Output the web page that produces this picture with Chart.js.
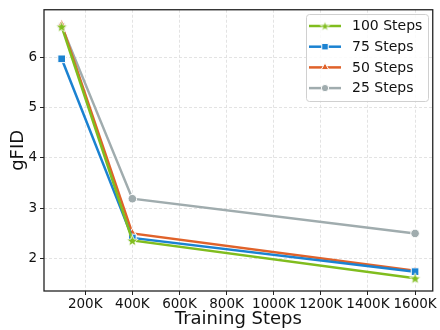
<!DOCTYPE html>
<html><head><meta charset="utf-8">
<script src="https://cdn.jsdelivr.net/npm/chart.js@4.4.1/dist/chart.umd.min.js"></script>
<style>html,body{margin:0;padding:0;background:#fff;}canvas{display:block;}</style>
</head><body>
<canvas id="c" width="440" height="330"></canvas>
<script>
const steps = [100000, 400000, 1600000];
const xTicks = [200000, 400000, 600000, 800000, 1000000, 1200000, 1400000, 1600000];
const yTicks = [2, 3, 4, 5, 6];
const labels = ['100 Steps', '75 Steps', '50 Steps', '25 Steps'];
const s100 = [6.61, 2.36, 1.61];
const s75 = [5.97, 2.41, 1.74];
const s50 = [6.65, 2.50, 1.76];
const s25 = [6.62, 3.19, 2.50];
const colors = ['#80bd1e', '#1b82d1', '#e0622a', '#a0acae'];

function starCanvas(color, R) {
  const n = Math.ceil(2 * R + 3);
  const c = document.createElement('canvas');
  c.width = n; c.height = n;
  const g = c.getContext('2d');
  const cx = n / 2, cy = n / 2 + R * 0.1, r = R * 0.42;
  g.beginPath();
  for (let i = 0; i < 10; i++) {
    const a = -Math.PI / 2 + i * Math.PI / 5;
    const rr = i % 2 === 0 ? R : r;
    g.lineTo(cx + rr * Math.cos(a), cy + rr * Math.sin(a));
  }
  g.closePath();
  g.fillStyle = color; g.fill();
  g.strokeStyle = '#fff'; g.lineWidth = 0.8; g.stroke();
  return c;
}
const star = starCanvas(colors[0], 6);
const starSmall = starCanvas(colors[0], 5);
const styles = [star, 'rect', 'triangle', 'circle'];
const legendStyles = [starSmall, 'rect', 'triangle', 'circle'];
const radii = [6, 5.4, 5.2, 4.3];
const series = [s100, s75, s50, s25];

const datasets = series.map((s, i) => ({
  label: labels[i],
  data: s.map((v, j) => ({x: steps[j], y: v})),
  borderColor: colors[i],
  backgroundColor: colors[i],
  borderWidth: 2.5,
  pointStyle: styles[i],
  pointRadius: radii[i],
  pointBorderColor: '#fff',
  pointBorderWidth: 1,
  pointBackgroundColor: colors[i],
  tension: 0,
  clip: false
}));

const font = {family: 'DejaVu Sans', size: 13.5, lineHeight: 1};

const framePlugin = {
  id: 'frame',
  afterDraw(chart) {
    const {ctx, chartArea: a} = chart;
    ctx.save();
    ctx.strokeStyle = '#222';
    ctx.lineWidth = 1.3;
    ctx.strokeRect(a.left, a.top, a.right - a.left, a.bottom - a.top);
    // legend
    const bx = 306, by = 14, bw = 122, bh = 87;
    ctx.beginPath();
    ctx.roundRect(bx + 0.5, by + 0.5, bw, bh, 3);
    ctx.fillStyle = 'rgba(255,255,255,0.85)';
    ctx.fill();
    ctx.strokeStyle = '#d0d0d0';
    ctx.lineWidth = 1;
    ctx.stroke();
    chart.data.datasets.forEach((ds, i) => {
      const y = 26 + i * 20.7;
      ctx.beginPath();
      ctx.moveTo(309, y); ctx.lineTo(341, y);
      ctx.strokeStyle = ds.borderColor; ctx.lineWidth = 2.5; ctx.stroke();
      ctx.fillStyle = ds.backgroundColor;
      ctx.strokeStyle = '#fff';
      ctx.lineWidth = 1;
      Chart.helpers.drawPoint(ctx, {pointStyle: legendStyles[i], rotation: 0, radius: ds.pointRadius * 0.85, borderWidth: 1}, 325, y);
      ctx.fillStyle = '#111';
      ctx.font = '14px "DejaVu Sans"';
      ctx.textBaseline = 'middle';
      ctx.textAlign = 'left';
      ctx.fillText(ds.label, 352, y + 0.5);
    });
    ctx.restore();
  }
};

new Chart(document.getElementById('c'), {
  type: 'line',
  data: {datasets},
  plugins: [framePlugin],
  options: {
    responsive: false,
    animation: false,
    layout: {padding: {top: 7, right: 5, left: 0, bottom: 0}},
    plugins: {legend: {display: false}, tooltip: {enabled: false}},
    scales: {
      x: {
        type: 'linear',
        min: 25000, max: 1675000,
        afterBuildTicks: s => { s.ticks = xTicks.map(v => ({value: v})); },
        afterFit: s => { s.height = 39; },
        ticks: {font, color: '#111', padding: 3, maxRotation: 0, autoSkip: false,
          callback: v => (v / 1000) + 'K'},
        grid: {color: '#dcdcdc', lineWidth: 0.8, tickColor: '#222', tickLength: 4, tickWidth: 1},
        border: {display: false, dash: [3, 2]},
        title: {display: true, text: 'Training Steps', color: '#111',
          font: {family: 'DejaVu Sans', size: 18, lineHeight: 1.2}, padding: {top: 0, bottom: 0}}
      },
      y: {
        min: 1.356, max: 6.945,
        afterBuildTicks: s => { s.ticks = yTicks.map(v => ({value: v})); },
        afterFit: s => { s.width = 44; },
        ticks: {font, color: '#111', padding: 3},
        grid: {color: '#dcdcdc', lineWidth: 0.8, tickColor: '#222', tickLength: 4, tickWidth: 1},
        border: {display: false, dash: [3, 2]},
        title: {display: true, text: 'gFID', color: '#111',
          font: {family: 'DejaVu Sans', size: 18, lineHeight: 1.2}, padding: {top: 8, bottom: 0}}
      }
    }
  }
});
</script>
</body></html>
